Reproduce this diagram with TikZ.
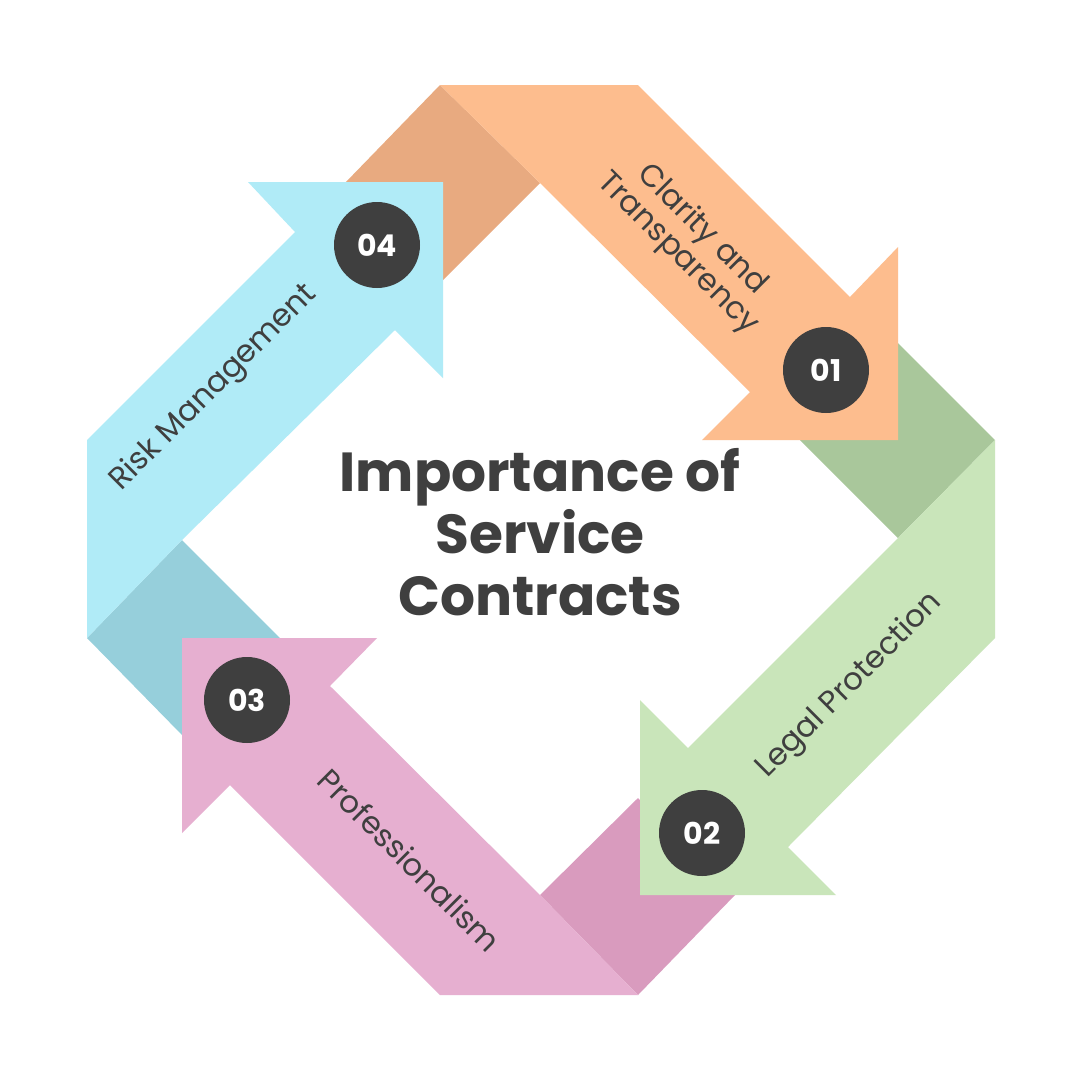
\documentclass[tikz,border=0pt]{standalone}
\usepackage{fontspec}
\setmainfont{Poppins}
\definecolor{orM}{HTML}{FDBD8E}\definecolor{orD}{HTML}{E8AA80}
\definecolor{grM}{HTML}{C9E5BA}\definecolor{grD}{HTML}{A9C79B}
\definecolor{piM}{HTML}{E6AFD0}\definecolor{piD}{HTML}{D99BBE}
\definecolor{cyM}{HTML}{B0EBF7}\definecolor{cyD}{HTML}{96CFDB}
\definecolor{txt}{HTML}{3F3F3F}
\begin{document}
\begin{tikzpicture}[x=1pt,y=-1pt,
  num/.style={circle,fill=txt,minimum size=86pt,inner sep=0pt,text=white,font=\fontsize{30}{30}\selectfont\bfseries},
  lab/.style={text=txt,font=\fontsize{31}{34}\selectfont,align=center}]
\useasboundingbox (0,0) rectangle (1080,1080);
\fill[white] (0,0) rectangle (1080,1080);
% folds
\fill[orD] (345,183)--(440,85)--(540,183)--(443,280)--cycle;
\fill[grD] (800,440)--(898,343)--(995,440)--(898,538)--cycle;
\fill[piD] (540,895)--(638,798)--(735,895)--(638,995)--cycle;
\fill[cyD] (87,638)--(182,540)--(280,638)--(182,735)--cycle;
% mains
\fill[orM] (440,85)--(638,85)--(850,297)--(898,247)--(898,440)--(702,440)--(750,392)--(540,183)--cycle;
\fill[grM] (995,440)--(995,638)--(788,847)--(836,895)--(640,895)--(640,700)--(688,748)--(898,538)--cycle;
\fill[piM] (638,995)--(440,995)--(230,785)--(182,833)--(182,638)--(377,638)--(330,686)--(540,895)--cycle;
\fill[cyM] (87,638)--(87,440)--(295,232)--(248,182)--(443,182)--(443,378)--(395,330)--(182,540)--cycle;
% numbers
\node[num] (n4) at (377,245) {04};
\node[num] (n1) at (826,370) {01};
\node[num] (n2) at (702,833) {02};
\node[num] (n3) at (247,700) {03};
% labels
\node[lab,rotate=-45] (l1) at (690,242) {Clarity and\\Transparency};
\node[lab,rotate=45] (l2) at (850,686) {Legal Protection};
\node[lab,rotate=-45] (l3) at (410,860) {Professionalism};
\node[lab,rotate=45] (l4) at (214,388) {Risk Management};
\node[text=txt,font=\fontsize{55}{62}\selectfont\bfseries,align=center] (t) at (540,532) {Importance of\\Service\\Contracts};
\end{tikzpicture}
\end{document}
